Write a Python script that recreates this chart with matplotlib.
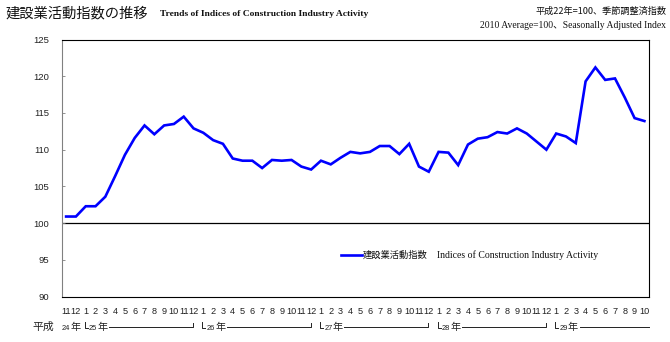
import matplotlib
matplotlib.use("Agg")
import matplotlib.pyplot as plt
from matplotlib.lines import Line2D

plt.rcParams['font.family'] = ['Noto Sans CJK JP', 'DejaVu Sans']

# ---- data ----
months = [11, 12,
          1, 2, 3, 4, 5, 6, 7, 8, 9, 10, 11, 12,
          1, 2, 3, 4, 5, 6, 7, 8, 9, 10, 11, 12,
          1, 2, 3, 4, 5, 6, 7, 8, 9, 10, 11, 12,
          1, 2, 3, 4, 5, 6, 7, 8, 9, 10, 11, 12,
          1, 2, 3, 4, 5, 6, 7, 8, 9, 10]
values = [100.9, 100.9,
          102.3, 102.3, 103.6, 106.4, 109.3, 111.6, 113.3, 112.1, 113.3, 113.5, 114.5, 112.9,
          112.3, 111.3, 110.8, 108.8, 108.5, 108.5, 107.5, 108.6, 108.5, 108.6, 107.7, 107.3,
          108.5, 108.0, 108.9, 109.7, 109.5, 109.7, 110.5, 110.5, 109.4, 110.8, 107.7, 107.0,
          109.7, 109.6, 107.9, 110.7, 111.5, 111.7, 112.4, 112.2, 112.9, 112.2, 111.1, 110.0,
          112.2, 111.8, 110.9, 119.3, 121.2, 119.5, 119.7, 117.1, 114.3, 113.9]
# year labels: (label, index of first month, index of last month, closed bracket)
year_first = ("24", 0)
years = [("25", 2, 13, True), ("26", 14, 25, True), ("27", 26, 37, True),
         ("28", 38, 49, True), ("29", 50, 59, False)]
yticks = [90, 95, 100, 105, 110, 115, 120, 125]

title_jp = "建設業活動指数の推移"
title_en = "Trends of Indices of Construction Industry Activity"
note_jp = "平成22年=100、季節調整済指数"
note_en = "2010 Average=100、Seasonally Adjusted Index"
legend_jp = "建設業活動指数"
legend_en = "Indices of Construction Industry Activity"

W, H = 670, 342
fig = plt.figure(figsize=(W / 100, H / 100), dpi=100)
ax = fig.add_axes([62 / W, 1 - 296.6 / H, (649 - 62) / W, (296.6 - 39.5) / H])

x = list(range(len(values)))
ax.plot(x, values, color='#0000FF', lw=1.9, solid_joinstyle='miter')
ax.axhline(100, color='black', lw=0.9, zorder=1)

ax.set_xlim(-0.42, len(values) - 1 + 0.47)
ax.set_ylim(90, 125)
ax.set_yticks(yticks)
ax.set_yticklabels([str(v) for v in yticks])
ax.set_xticks(x)
ax.set_xticklabels([str(m) for m in months])

ax.tick_params(axis='y', direction='in', length=2.5, width=0.6, color='#808080',
               labelsize=6.8, labelcolor='#222222', pad=9)
ax.tick_params(axis='x', length=0, labelsize=6.6, labelcolor='#222222', pad=7.5)
for lab in ax.get_xticklabels() + ax.get_yticklabels():
    lab.set_fontfamily(['Liberation Sans', 'DejaVu Sans'])

for s in ['top', 'right', 'bottom']:
    ax.spines[s].set_color('black')
    ax.spines[s].set_linewidth(0.8)
ax.spines['left'].set_color('#808080')
ax.spines['left'].set_linewidth(0.8)

# ---- year row beneath month labels ----
px_per_idx = (644.7 - 66) / (len(values) - 1)
ax_h_px = 296.6 - 39.5
def ay(ypx):
    return (296.6 - ypx) / ax_h_px
tr = ax.get_xaxis_transform()
ycen = ay(327)
fig.text(43 / W, 1 - 326.5 / H, "平成", fontsize=7.8, ha='center', va='center', color='#222222')

def year_label(lbl, x0):
    ax.text(x0, ay(328), lbl, transform=tr, fontsize=5.4, ha='left', va='center',
            color='#222222', clip_on=False, family=['Liberation Sans', 'DejaVu Sans'])
    ax.text(x0 + 8.6 / px_per_idx, ycen, "年", transform=tr, fontsize=7.3, ha='left',
            va='center', color='#222222', clip_on=False)

year_label(year_first[0], year_first[1] - 0.45)
for lbl, i0, i1, closed in years:
    xb = i0 - 0.1
    # corner mark
    ax.add_line(Line2D([xb, xb, xb + 3 / px_per_idx], [ay(321.5), ay(328), ay(328)],
                       transform=tr, color='#222222', lw=0.7, clip_on=False))
    year_label(lbl, xb + 4.2 / px_per_idx)
    xs = xb + 24.5 / px_per_idx
    xe = i1 - 0.05 if closed else i1 + 0.5
    if closed:
        ax.add_line(Line2D([xs, xe, xe], [ay(327), ay(327), ay(322.5)], transform=tr,
                           color='#222222', lw=0.7, clip_on=False))
    else:
        ax.add_line(Line2D([xs, xe], [ay(327), ay(327)], transform=tr,
                           color='#222222', lw=0.7, clip_on=False))

# ---- titles ----
fig.text(5 / W, 1 - 13 / H, title_jp, fontsize=10.3, ha='left', va='center', color='#111111')
fig.text(160 / W, 1 - 13.5 / H, title_en, fontsize=6.8, ha='left', va='center',
         family=['Liberation Serif'], weight='bold', color='#111111')
fig.text(666 / W, 1 - 11.5 / H, note_jp, fontsize=6.6, ha='right', va='center', color='#111111')
fig.text(666 / W, 1 - 25.5 / H, note_en, fontsize=6.95, ha='right', va='center',
         family=['Liberation Serif', 'Noto Sans CJK JP'], color='#111111')

# ---- legend ----
fig.add_artist(Line2D([341 / W, 362 / W], [1 - 255 / H, 1 - 255 / H], color='#0000FF', lw=1.9))
fig.text(362.5 / W, 1 - 255 / H, legend_jp, fontsize=6.7, ha='left', va='center', color='#111111')
fig.text(437 / W, 1 - 255 / H, legend_en, fontsize=7.0, ha='left', va='center',
         family=['Liberation Serif'], color='#111111')

fig.savefig("out.png", dpi=100)
